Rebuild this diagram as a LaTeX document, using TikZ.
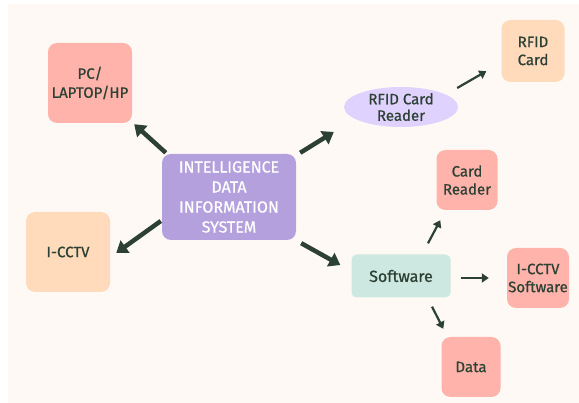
\documentclass[tikz,border=0pt]{standalone}
\usepackage{fontspec}
\setmainfont{Fira Sans}[FakeBold=0.7]
\usetikzlibrary{arrows.meta,shapes.geometric}
\definecolor{cream}{HTML}{FFF9F6}
\definecolor{salmon}{HTML}{FFB3AA}
\definecolor{peach}{HTML}{FFDABB}
\definecolor{lilac}{HTML}{B3A0DC}
\definecolor{lavender}{HTML}{E0D2FE}
\definecolor{mint}{HTML}{CDE8E1}
\definecolor{ink}{HTML}{2C4134}
\tikzset{
 card/.style={rounded corners=9pt, align=center, text=ink, inner sep=0pt,
  font=\fontsize{15}{18}\selectfont},
 bigarrow/.style={draw=ink, line width=4.5pt, -{Triangle[length=11pt,width=15pt]}},
 smallarrow/.style={draw=ink, line width=2.2pt, -{Triangle[length=7pt,width=9pt]}},
}
\begin{document}
\begin{tikzpicture}[x=1pt,y=-1pt]
 \useasboundingbox (0,0) rectangle (579,403);
 \fill[cream] (8,4) rectangle (579,403);

 \node[card, fill=lilac, text=white, minimum width=134pt, minimum height=86pt,
  font=\fontsize{16}{20}\selectfont] (ids) at (229,197)
  {INTELLIGENCE\\DATA\\INFORMATION\\SYSTEM};
 \node[card, fill=salmon, minimum width=84pt, minimum height=80pt,
  font=\fontsize{15}{19}\selectfont] (pc) at (90,83) {PC/\\LAPTOP/HP};
 \node[card, fill=peach, minimum width=84pt, minimum height=80pt] (cctv) at (68,252) {I-CCTV};
 \node[ellipse, fill=lavender, text=ink, align=center, inner sep=0pt, minimum width=114pt,
  minimum height=40pt, font=\fontsize{15}{16.5}\selectfont] (reader) at (401,107) {RFID Card\\Reader};
 \node[card, fill=peach, minimum width=63pt, minimum height=62pt] (rfid) at (533,51) {RFID\\Card};
 \node[card, fill=mint, rounded corners=5pt, minimum width=99pt, minimum height=43pt,
  font=\fontsize{16}{18}\selectfont] (soft) at (401,276) {Software};
 \node[card, fill=salmon, minimum width=61pt, minimum height=60pt] (cardreader) at (467,180) {Card\\Reader};
 \node[card, fill=salmon, minimum width=62pt, minimum height=60pt] (cctvsoft) at (538,278) {I-CCTV\\Software};
 \node[card, fill=salmon, minimum width=59pt, minimum height=60pt] (data) at (471,367) {Data};

 % arrow ends, kept clear of the boxes
 \coordinate (a1) at ([shift={(4,-1)}]ids.north west);
 \coordinate (a2) at ([shift={(2,1)}]pc.south east);
 \coordinate (b1) at ([shift={(-1,24)}]ids.west);
 \coordinate (b2) at ([shift={(6,1)}]cctv.east);
 \coordinate (c1) at ([shift={(4,-1)}]ids.north east);
 \coordinate (c2) at ([shift={(-10,25)}]reader.west);
 \coordinate (d1) at ([shift={(5,3)}]ids.south east);
 \coordinate (d2) at ([shift={(-11,-11)}]soft.west);
 \coordinate (e1) at ([shift={(-1,-19)}]reader.east);
 \coordinate (e2) at ([shift={(-15,-11)}]rfid.south west);
 \coordinate (f1) at ([shift={(27,-11)}]soft.north);
 \coordinate (f2) at ([shift={(4,10)}]cardreader.south west);
 \coordinate (g1) at ([shift={(10,2)}]soft.east);
 \coordinate (g2) at ([shift={(-18,0)}]cctvsoft.west);
 \coordinate (h1) at ([shift={(31,9)}]soft.south);
 \coordinate (h2) at ([shift={(2,-8)}]data.north west);

 \path (a1) edge [bigarrow] (a2);
 \path (b1) edge [bigarrow] (b2);
 \path (c1) edge [bigarrow] (c2);
 \path (d1) edge [bigarrow] (d2);
 \path (e1) edge [smallarrow] (e2);
 \path (f1) edge [smallarrow] (f2);
 \path (g1) edge [smallarrow] (g2);
 \path (h1) edge [smallarrow] (h2);
\end{tikzpicture}
\end{document}
